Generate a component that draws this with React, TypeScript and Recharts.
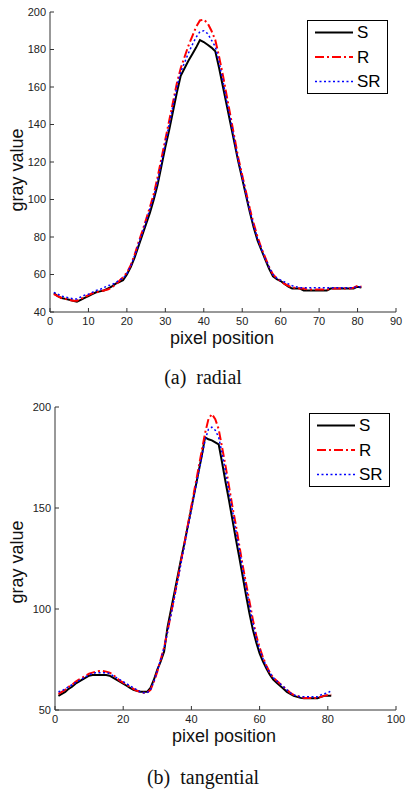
import { Legend, Line, LineChart, XAxis, YAxis } from "recharts";

const pixelPos = [
  1, 2, 3, 4, 5, 6, 7, 8, 9, 10, 11, 12, 13, 14, 15, 16, 17, 18, 19, 20,
  21, 22, 23, 24, 25, 26, 27, 28, 29, 30, 31, 32, 33, 34, 35, 36, 37, 38, 39, 40,
  41, 42, 43, 44, 45, 46, 47, 48, 49, 50, 51, 52, 53, 54, 55, 56, 57, 58, 59, 60,
  61, 62, 63, 64, 65, 66, 67, 68, 69, 70, 71, 72, 73, 74, 75, 76, 77, 78, 79, 80, 81,
];

// (a) radial profiles
const radialS = [
  50, 48.5, 47.5, 47, 46.5, 46, 45.5, 46.5, 47.5, 48.5,
  49.5, 50.5, 51, 51.5, 52.5, 53.5, 55, 56, 57, 60,
  64, 69, 75, 81, 87, 93, 100, 108, 118, 128,
  137, 147, 157, 166, 170, 174, 177.5, 181, 185, 184,
  182.5, 181, 179, 170, 160, 150, 140, 130, 120, 111,
  102, 93, 85, 78, 73, 68, 63, 59, 57.5, 56.5,
  55, 53.5, 52.5, 52.5, 52.5, 51.5, 51.5, 51.5, 51.5, 51.5,
  51.5, 51.5, 52.5, 52.5, 52.5, 52.5, 52.5, 52.5, 52.5, 53.5, 53,
];
const radialR = [
  49.5, 48.5, 47.5, 47, 46.5, 46, 46, 47, 48, 49,
  50, 50.5, 51, 51.5, 52, 53, 54.5, 56.5, 58.5, 61,
  65, 70.5, 77, 83, 89.5, 96, 103, 112, 122, 132,
  142, 152, 162, 170, 176, 182, 187, 192, 195.5, 196,
  194, 190, 185, 176, 166, 155, 144, 133, 122, 113,
  104, 95, 87, 80, 74, 69, 64, 60, 58, 56.5,
  55, 54, 53, 53, 52.5, 52.5, 52, 52, 52, 52,
  52, 52, 52.5, 52.5, 52.5, 52.5, 52.5, 52.5, 53, 54, 53.5,
];
const radialSR = [
  50.5, 49.5, 48.5, 48, 47.5, 47, 47, 48, 49, 49.5,
  50.5, 51.5, 52, 53, 54, 54.5, 55.5, 57, 58, 60.5,
  64.5, 70, 76, 82, 88.5, 95, 101.5, 110, 120, 130,
  140, 150, 160, 168, 173, 178, 182.5, 186.5, 189.5, 190,
  188.5, 185, 181.5, 173, 163, 152, 142, 131, 121, 112,
  103, 94, 86, 79, 73.5, 68.5, 64, 60, 58, 57,
  56, 55, 54, 53.5, 53, 53, 53, 53, 53, 53,
  53, 53, 53, 53, 53, 53, 53, 53, 53, 53.5, 53.5,
];

// (b) tangential profiles
const tangS = [
  57, 58, 59, 60.5, 61.5, 63, 64, 65, 66, 67,
  67.3, 67.3, 67.3, 67.3, 67.3, 67, 66, 65, 64, 63,
  62, 61, 60, 59.5, 59, 59, 59, 61, 65, 70,
  74, 79, 91, 99.5, 108, 116.5, 125, 133, 141.5, 150,
  158.5, 167, 175.5, 185, 184, 183.5, 182.5, 181.5, 172.5, 163,
  154, 144.5, 135, 126, 116.5, 107, 98, 90, 83.5, 78,
  74, 70.5, 67.5, 65, 63.5, 62, 60.5, 59, 58, 57,
  56.5, 56, 55.8, 55.8, 55.8, 55.8, 55.8, 56.5, 57, 57, 57,
];
const tangR = [
  58, 59, 60, 61.5, 62.5, 64, 65, 66, 67, 68,
  68.5, 69, 69.3, 69.3, 69, 68.5, 67.5, 66, 64.5, 63.5,
  62.5, 61.5, 60.5, 59.5, 59, 58.5, 58.5, 60, 64, 69,
  75, 81, 89, 97.5, 106, 115, 124, 133, 142, 151,
  160, 169, 178, 187, 194, 196.5, 194, 189, 180, 171,
  161, 151, 142, 132, 122, 113, 104, 95, 87, 81,
  76, 72, 68.5, 66, 64.5, 63, 61.5, 60, 58.5, 57.5,
  57, 56.5, 56, 56, 56, 56, 56, 56.5, 57, 57.5, 57.5,
];
const tangSR = [
  59, 59.5, 60.5, 61.5, 62.5, 63.5, 64.5, 65.5, 66.5, 67.5,
  68, 68.5, 68.5, 68.5, 68.5, 68, 67, 66, 65, 64,
  63, 62, 61, 60, 59, 58.5, 58.5, 60, 64, 69.5,
  75, 81, 88.5, 97, 105.5, 114, 123, 132, 140.5, 149,
  158, 166.5, 175, 183.5, 189, 190, 188.5, 185, 177, 168,
  158, 149, 139, 130, 120, 111, 102, 93, 86, 80,
  75.5, 71.5, 68.5, 66, 64.5, 63, 61.5, 60, 58.5, 57.5,
  57, 56.5, 56.5, 56.5, 56.5, 56.5, 56.5, 57.5, 58, 58.5, 59.5,
];

const radialXTicks = [0, 10, 20, 30, 40, 50, 60, 70, 80, 90];
const radialYTicks = [40, 60, 80, 100, 120, 140, 160, 180, 200];
const tangXTicks = [0, 20, 40, 60, 80, 100];
const tangYTicks = [50, 100, 150, 200];

const SANS = '"Liberation Sans", Arial, Helvetica, sans-serif';
const SERIF = '"Liberation Serif", "Times New Roman", serif';

const series = [
  { key: "S", color: "#000000", dash: undefined, width: 2 },
  { key: "R", color: "#ff0000", dash: "9 3 2 3", width: 2 },
  { key: "SR", color: "#0000ff", dash: "2 2.5", width: 1.5 },
];

const radialRows = pixelPos.map((x, i) => ({ x, S: radialS[i], R: radialR[i], SR: radialSR[i] }));
const tangRows = pixelPos.map((x, i) => ({ x, S: tangS[i], R: tangR[i], SR: tangSR[i] }));

function XTitle({ tx, ty }: any) {
  return (
    <text x={tx} y={ty} textAnchor="middle" fontSize={18} fontFamily={SANS} fill="#111">
      pixel position
    </text>
  );
}

function YTitle({ tx, ty }: any) {
  return (
    <text
      x={tx}
      y={ty}
      transform={`rotate(-90 ${tx} ${ty})`}
      textAnchor="middle"
      dominantBaseline="central"
      fontSize={18}
      fontFamily={SANS}
      fill="#111"
    >
      gray value
    </text>
  );
}

function LegendBox() {
  const rows = [12.5, 37, 61.5];
  return (
    <svg width={82} height={75} style={{ display: "block" }}>
      <rect x={0.5} y={0.5} width={80} height={73} fill="#fff" stroke="#000" />
      {series.map((s, i) => (
        <g key={s.key}>
          <line
            x1={8}
            x2={46}
            y1={rows[i]}
            y2={rows[i]}
            stroke={s.color}
            strokeWidth={s.width}
            strokeDasharray={s.dash}
          />
          <text x={50} y={rows[i]} dominantBaseline="central" fontSize={17} fontFamily={SANS} fill="#000">
            {s.key}
          </text>
        </g>
      ))}
    </svg>
  );
}

function ProfileChart({
  rows,
  xTicks,
  yTicks,
  xDomain,
  yDomain,
  yAxisWidth,
  height,
  xTitleX,
  yTitleY,
  legendAt,
}: any) {
  const axisColor = "#333";
  const tickStyle = { fontSize: 11, fontFamily: SANS, fill: "#222" };
  return (
    <LineChart
      width={406}
      height={height}
      data={rows}
      margin={{ top: 12, right: 10, bottom: 5, left: 5 }}
    >
      <XAxis
        dataKey="x"
        type="number"
        domain={xDomain}
        ticks={xTicks}
        allowDataOverflow
        height={35}
        stroke={axisColor}
        tickSize={-4}
        tickMargin={9}
        tick={tickStyle}
        label={<XTitle tx={xTitleX} ty={height - 8} />}
      />
      <XAxis
        xAxisId="top"
        orientation="top"
        dataKey="x"
        type="number"
        domain={xDomain}
        ticks={xTicks}
        allowDataOverflow
        height={0}
        stroke={axisColor}
        tickSize={-4}
        tick={false}
      />
      <YAxis
        type="number"
        domain={yDomain}
        ticks={yTicks}
        allowDataOverflow
        width={yAxisWidth}
        stroke={axisColor}
        tickSize={-4}
        tickMargin={8}
        tick={tickStyle}
        label={<YTitle tx={17} ty={yTitleY} />}
      />
      <YAxis
        yAxisId="right"
        orientation="right"
        type="number"
        domain={yDomain}
        ticks={yTicks}
        allowDataOverflow
        width={0}
        stroke={axisColor}
        tickSize={-4}
        tick={false}
      />
      {series.map((s) => (
        <Line
          key={s.key}
          dataKey={s.key}
          type="linear"
          stroke={s.color}
          strokeWidth={s.width}
          strokeDasharray={s.dash}
          dot={false}
          activeDot={false}
          isAnimationActive={false}
        />
      ))}
      <Legend
        layout="vertical"
        align="center"
        verticalAlign="middle"
        content={() => <LegendBox />}
        wrapperStyle={{ left: legendAt[0], top: legendAt[1], width: 82, height: 75 }}
      />
    </LineChart>
  );
}

const captionStyle: any = {
  position: "absolute",
  left: 0,
  width: 406,
  textAlign: "center",
  fontFamily: SERIF,
  fontSize: 20,
  lineHeight: "20px",
  color: "#111",
  wordSpacing: 5,
};

export default function App() {
  return (
    <div style={{ position: "absolute", left: 0, top: 0, width: 406, height: 792, background: "#fff" }}>
      <div style={{ position: "absolute", left: 0, top: 0 }}>
        <ProfileChart
          rows={radialRows}
          xTicks={radialXTicks}
          yTicks={radialYTicks}
          xDomain={[0, 90]}
          yDomain={[40, 200]}
          yAxisWidth={45}
          height={352}
          xTitleX={222}
          yTitleY={170}
          legendAt={[307, 20]}
        />
      </div>
      <div style={{ ...captionStyle, top: 367 }}>(a) radial</div>
      <div style={{ position: "absolute", left: 0, top: 395 }}>
        <ProfileChart
          rows={tangRows}
          xTicks={tangXTicks}
          yTicks={tangYTicks}
          xDomain={[0, 100]}
          yDomain={[50, 200]}
          yAxisWidth={50}
          height={355}
          xTitleX={224}
          yTitleY={167}
          legendAt={[309, 18]}
        />
      </div>
      <div style={{ ...captionStyle, top: 767 }}>(b) tangential</div>
    </div>
  );
}
